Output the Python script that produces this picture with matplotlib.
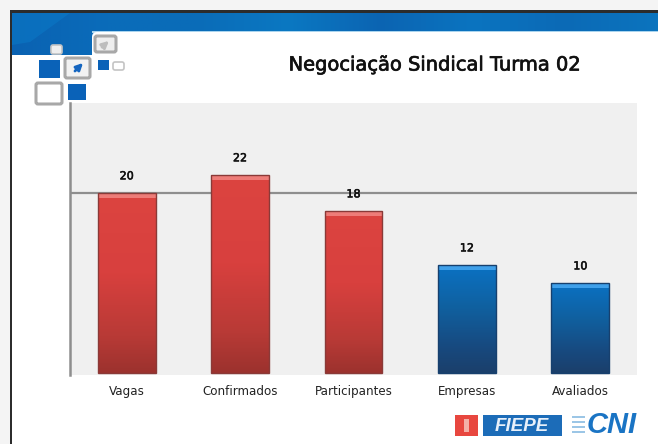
import numpy as np
from matplotlib import pyplot as plt
from matplotlib.colors import LinearSegmentedColormap
from matplotlib.patches import FancyBboxPatch, Polygon, Rectangle
import matplotlib.patheffects as pe

W, H = 658, 444

categories = ["Vagas", "Confirmados", "Participantes", "Empresas", "Avaliados"]
values = [20, 22, 18, 12, 10]
bar_groups = ["red", "red", "red", "blue", "blue"]
title = "Negociação Sindical Turma 02"

gradients = {
    "red": LinearSegmentedColormap.from_list("r", [(0, "#dc4440"), (0.45, "#d8403e"), (0.8, "#b83a36"), (1, "#9c322e")]),
    "blue": LinearSegmentedColormap.from_list("b", [(0, "#0a72c4"), (0.4, "#10609f"), (0.75, "#174a80"), (1, "#1b3f6b")]),
}
cap_colors = {"red": "#ee7c78", "blue": "#3fa0ea"}

fig = plt.figure(figsize=(W / 100, H / 100), dpi=100, facecolor="white")

# page decoration, in pixel coords
bg = fig.add_axes([0, 0, 1, 1])
bg.set_xlim(0, W)
bg.set_ylim(H, 0)
bg.axis("off")


def box(x0, y0, x1, y1, fc, ec="none", lw=0, z=3):
    bg.add_patch(Rectangle((x0, y0), x1 - x0, y1 - y0, fc=fc, ec=ec, lw=lw, zorder=z))


def rbox(x0, y0, x1, y1, fc, ec="#a8a8a8", lw=2.2, z=4):
    bg.add_patch(FancyBboxPatch((x0 + 2, y0 + 2), x1 - x0 - 4, y1 - y0 - 4, boxstyle="round,pad=2",
                                fc=fc, ec=ec, lw=lw, zorder=z))


# outside the slide
box(0, 0, W, 10, "#f4f4f4", z=1)
box(0, 0, 10, H, "#f4f4f4", z=1)
box(10, 10, W, 13, "#2c2c2c", z=6)
box(10, 10, 12, H, "#2c2c2c", z=6)

# blue header band
band = LinearSegmentedColormap.from_list("h", ["#0a62b2", "#0a6cba", "#0b6cb8", "#0a78c2", "#0c64b2", "#0a74c0", "#0c6ab6", "#0b74be"])
strip = np.linspace(0, 1, 300).reshape(1, -1)
bg.imshow(strip, cmap=band, extent=(12, W, 55, 13), aspect="auto", zorder=2)
bg.set_xlim(0, W)
bg.set_ylim(H, 0)
box(92, 31, W, 33, "#a9d4ee", z=2.5)
bg.add_patch(FancyBboxPatch((97, 37), W, 30, boxstyle="round,pad=5", fc="white", ec="none", zorder=2.6))
box(92, 40, W, 60, "white", z=2.6)
bg.add_patch(Polygon([(12, 13), (70, 13), (30, 42), (12, 45)], fc="#0a78c6", ec="none", alpha=0.6, zorder=2.2))

# corner squares logo
box(39, 60, 60, 78, "#0a62b8")
box(68, 84, 86, 100, "#0a62b8")
box(98, 60, 109, 70, "#0a62b8")
rbox(65, 58, 90, 78, "#f2f2f2")
rbox(36, 83, 62, 104, "white")
rbox(95, 36, 116, 52, "#eeeeee")
rbox(51, 45, 62, 54, "#eeeeee", ec="#c4c4c4", lw=1.2)
rbox(113, 62, 124, 70, "white", ec="#c4c4c4", lw=1.2)
bg.annotate("", xy=(85, 61), xytext=(73, 73), zorder=5,
            arrowprops=dict(arrowstyle="-|>", color="#1566c0", lw=2))
bg.annotate("", xy=(111, 39), xytext=(100, 49), zorder=5,
            arrowprops=dict(arrowstyle="-|>", color="#bdbdbd", lw=2))

tt = bg.text(435, 65, title, ha="center", va="center", fontsize=14, color="#111111",
             family="DejaVu Sans", zorder=5)
tt.set_path_effects([pe.withStroke(linewidth=0.5, foreground="#111111")])

# footer logos
box(455, 415, 478, 436, "#e8473f")
box(464, 419, 469, 432, "#f4b0a8", z=4)
box(483, 415, 562, 436, "#1c6cb8")
bg.text(522, 426, "FIEPE", ha="center", va="center", color="#e8f0fa", fontsize=13.5,
        weight="bold", style="italic", family="Liberation Sans", zorder=5)
bg.text(612, 425, "CNI", ha="center", va="center", color="#1a74c4", fontsize=21,
        weight="bold", style="italic", family="Liberation Sans", zorder=5)
for y in [416, 421, 426, 431]:
    box(572, y, 585, y + 1.5, "#9cc6e6", z=4)

# chart
ax = fig.add_axes([70 / W, 1 - 375 / H, (637 - 70) / W, (375 - 103) / H], facecolor="#f0f0f0")
x = np.arange(len(values))
ax.set_xlim(-0.5, len(values) - 0.5)
ax.set_ylim(-0.2, 30)
ax.set_yticks([20])
ax.yaxis.grid(True, color="#8e8e8e", lw=1.6)
ax.set_axisbelow(True)
ax.tick_params(left=False, bottom=False, labelleft=False, pad=4, labelsize=8.6, labelcolor="#222222")
ax.set_xticks(x, categories)
for side in ["top", "right", "bottom"]:
    ax.spines[side].set_visible(False)
ax.spines["left"].set_color("#8e8e8e")
ax.spines["left"].set_linewidth(1.8)

bars = ax.bar(x, values, width=0.51, color="none", linewidth=1.0, zorder=3)
for rect, group, v in zip(bars, bar_groups, values):
    bx, bw = rect.get_x(), rect.get_width()
    grad = np.linspace(0, 1, 200).reshape(-1, 1)
    im = ax.imshow(grad, cmap=gradients[group], extent=(bx, bx + bw, 0, v), aspect="auto", zorder=2.5)
    im.set_clip_path(rect)
    rect.set_edgecolor("#8a3a38" if group == "red" else "#17406e")
    # light cap on top of the bar
    ax.bar(bx + bw / 2, 0.55, width=bw, bottom=v - 0.55, color=cap_colors[group], linewidth=0, zorder=2.8)
    lab = ax.text(bx + bw / 2, v + 1.3, str(v), ha="center", va="bottom", fontsize=8, color="#111111", zorder=4)
    lab.set_path_effects([pe.withStroke(linewidth=0.4, foreground="#111111")])
ax.set_xlim(-0.5, len(values) - 0.5)
ax.set_ylim(-0.2, 30)

fig.savefig("out.png", dpi=100)
